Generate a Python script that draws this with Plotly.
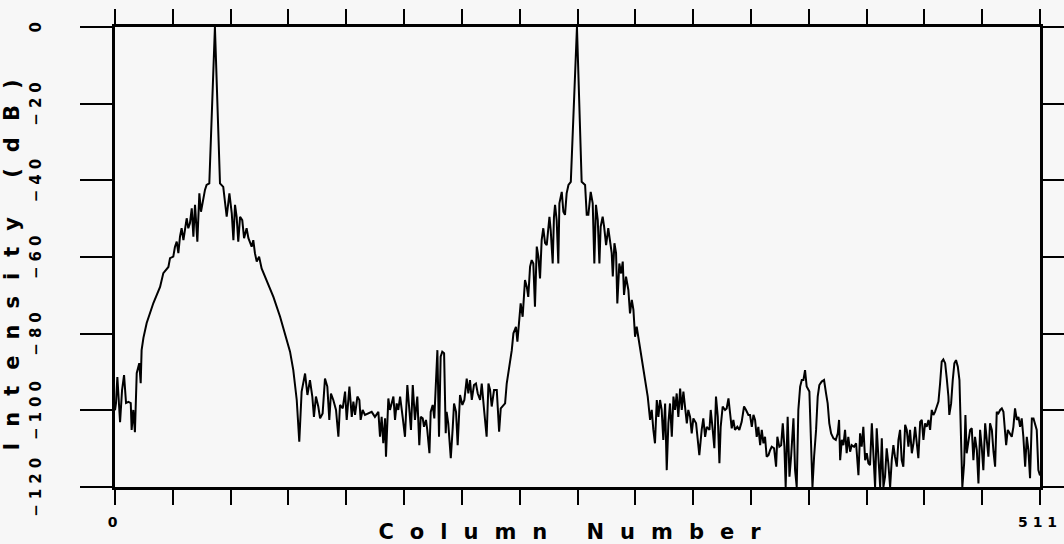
import plotly.graph_objects as go

# ---- data (column number, intensity in dB) ----
col_a = [0, 0.55, 1.3, 2.8, 3.9, 5.0, 6.1, 7.4, 8.7, 9.2, 10.1, 11.0, 12.0, 13.4, 14.2, 14.7,
         15.7, 17.5, 21.2, 24.9, 26.7, 29.5, 30.4, 32.2, 33.1, 34.1, 35.0, 35.9, 36.8, 37.8,
         39.6, 40.5, 41.4, 42.4, 43.3, 44.2, 45.5, 46.6, 47.5, 48.4, 49.7, 50.6, 52.1,
         55.2, 58.0,
         59.8, 60.8, 61.7, 63.2, 64.5, 65.4, 66.3, 67.2, 68.1, 69.1, 70.3, 71.3, 72.7, 73.7,
         74.6, 75.5, 76.4, 77.3, 78.3, 79.6, 81.0, 83.8, 87.5, 91.2, 93.9, 96.7, 98.5, 100.4, 101.8]
db_a = [-100, -98.1, -91.3, -103.1, -94.7, -90.8, -98.1, -97.8, -98.1, -105.1, -99.9, -105.7,
        -90.3, -87.7, -92.9, -84.3, -81.1, -77.2, -72.0, -67.8, -64.2, -62.6, -60.3, -59.9,
        -57.4, -56.0, -59.0, -54.7, -52.5, -55.6, -49.9, -52.5, -51.2, -47.3, -54.7, -46.4,
        -56.0, -43.4, -48.2, -45.6, -42.5, -41.2, -40.8,
        0, -40.8,
        -41.7, -46.0, -49.5, -43.4, -48.6, -55.6, -46.4, -49.5, -56.0, -49.5, -50.4, -55.1,
        -52.5, -55.1, -56.0, -57.3, -55.6, -59.0, -61.2, -59.9, -63.0, -66.0, -70.4, -75.6,
        -79.9, -84.7, -89.5, -97.3, -108.2]

col_b = [103.1, 105.0, 106.3, 107.7, 109.0, 109.9, 111.0, 112.3, 113.3, 114.7, 116.0, 117.3,
         118.4, 119.3, 120.6, 122.1, 123.4, 124.3, 125.8, 127.1, 128.0, 129.5, 130.8, 131.7,
         132.6, 133.9, 135.0, 135.7, 136.8, 138.1, 140.0, 141.8, 143.6, 145.5, 146.4, 147.3,
         148.2, 149.2, 149.7, 151.0, 151.9, 152.9, 153.8, 154.7, 155.6, 156.5, 157.5, 158.9,
         160.2, 161.5, 162.6, 163.5, 164.5, 165.7, 167.0, 168.1, 168.9, 170.0, 170.7, 171.8,
         172.5, 173.7, 174.4, 175.5, 176.4, 177.3, 178.1, 179.0, 179.9, 180.8, 181.8, 182.7,
         183.2, 184.1, 185.5, 186.6, 187.3, 188.4, 189.3, 190.6, 191.9, 193.0, 194.3, 195.2,
         196.1, 197.1, 198.3, 199.4, 200.4]
db_b = [-95.1, -90.4, -96.0, -92.1, -96.4, -101.7, -96.4, -99.0, -102.1, -100.8, -91.7, -93.8,
        -102.5, -95.6, -97.3, -99.9, -106.9, -98.6, -99.5, -95.1, -102.5, -93.8, -101.7, -97.7,
        -101.2, -96.4, -97.3, -102.5, -99.9, -101.2, -100.8, -100.4, -101.7, -100.4, -106.9,
        -101.7, -108.6, -102.1, -112.1, -96.9, -99.9, -97.7, -96.4, -102.5, -98.2, -99.9,
        -96.4, -101.7, -106.9, -93.4, -99.0, -105.1, -93.4, -102.5, -96.4, -109.1, -101.7,
        -102.1, -104.3, -102.5, -105.1, -111.2, -100.4, -98.6, -102.1, -90.4, -84.3, -106.9,
        -86.0, -84.7, -85.1, -106.0, -100.4, -103.4, -112.5, -104.3, -98.2, -100.4, -109.1,
        -96.0, -98.6, -97.3, -91.7, -95.6, -92.1, -97.3, -93.4, -93.0, -95.6]

col_c = [201.7, 202.6, 203.9, 205.3, 206.3, 207.2, 208.1, 209.4, 210.9, 212.2, 213.1, 215.5,
         216.4, 218.2, 219.2, 220.1, 221.5, 222.3, 223.4, 224.1, 225.2, 226.5, 227.5, 228.3,
         229.3, 230.2, 231.1, 232.0, 233.0, 233.9, 234.8, 235.7, 236.6, 237.6, 238.5, 240.0,
         240.7, 241.8, 242.5, 243.1, 244.0, 244.9, 245.5, 246.8, 247.7, 248.6, 249.5, 250.5,
         251.8, 255.2, 257.8,
         259.7, 260.6, 261.5, 262.8, 263.9, 264.8, 265.7, 266.7, 267.6, 268.3, 269.4, 270.2,
         271.3, 272.5, 273.5, 274.4, 275.0, 275.9, 276.8, 277.5, 278.6, 279.6, 280.5, 281.2,
         282.3, 283.6, 284.5, 285.5, 286.4, 287.3, 288.2, 289.1, 291.0, 292.8, 294.3, 295.6,
         296.5, 297.4, 298.3, 299.3, 300.2, 301.1, 302.0, 302.9, 303.9, 304.8, 305.7, 306.6,
         307.6, 308.5, 309.4, 310.3, 311.2, 312.2, 313.1, 314.0, 314.9, 315.9, 316.7, 317.7,
         318.6, 319.5, 321.0]
db_c = [-97.3, -93.0, -99.9, -106.9, -93.0, -94.7, -99.0, -94.7, -94.7, -105.6, -99.5, -98.2,
        -93.0, -87.7, -84.3, -79.9, -78.2, -82.1, -76.4, -72.1, -75.6, -66.0, -67.8, -70.4,
        -62.5, -60.8, -61.7, -73.0, -57.3, -59.9, -65.6, -55.6, -52.5, -56.4, -56.9, -49.5,
        -53.0, -61.7, -49.5, -46.4, -50.4, -61.7, -46.0, -43.0, -48.2, -49.0, -43.4, -41.2,
        -40.4, 0, -40.4,
        -41.2, -49.0, -49.0, -43.0, -46.0, -61.7, -46.4, -50.4, -61.7, -52.1, -49.5, -52.1,
        -56.9, -52.5, -56.0, -59.0, -65.1, -56.4, -59.0, -72.1, -61.7, -64.3, -61.2, -69.9,
        -65.1, -68.6, -74.7, -71.2, -73.8, -80.8, -78.2, -80.8, -86.9, -91.2, -96.4, -102.5,
        -99.9, -105.1, -108.6, -97.3, -101.7, -97.3, -99.9, -107.7, -98.2, -115.6, -103.4,
        -98.2, -106.9, -96.4, -99.9, -95.6, -101.7, -94.3, -99.9, -95.1, -99.0, -103.4, -99.9,
        -101.7, -106.0, -102.1, -103.4]

col_d = [322.8, 324.1, 325.0, 326.0, 326.9, 328.4, 329.1, 330.2, 331.1, 332.0, 333.0, 333.9,
         334.6, 335.7, 337.0, 337.9, 338.9, 339.8, 340.7, 341.6, 342.5, 343.8, 344.9, 346.2,
         347.5, 348.6, 349.9, 350.8, 351.8, 352.7, 353.6, 354.5, 355.4, 356.4, 357.3, 358.2,
         359.1, 360.0, 361.0, 361.9, 362.8, 364.1, 365.2, 365.9, 367.0, 368.0, 368.9, 369.8,
         370.5, 371.6, 372.6, 373.5, 374.8, 375.7, 376.6, 377.5, 378.5, 379.4, 380.3, 381.2,
         382.1, 383.6, 384.3, 385.3, 386.2, 387.3, 388.2, 389.1, 390.4, 391.7, 392.8, 393.7,
         394.6, 395.6, 396.9, 398.2, 399.3, 400.0, 400.6, 401.5, 402.4, 403.3, 404.2, 405.1,
         406.1, 407.0, 408.3, 409.4, 410.7, 411.6, 412.5, 413.4, 414.4, 415.3, 416.2]
db_d = [-111.7, -105.1, -102.1, -106.9, -104.3, -105.1, -99.9, -105.1, -109.9, -96.4, -101.7,
        -113.8, -104.3, -99.0, -99.9, -99.5, -96.9, -100.8, -104.7, -102.5, -105.1, -104.3,
        -105.1, -103.0, -99.0, -99.9, -101.2, -101.2, -104.3, -101.2, -102.5, -106.9, -104.3,
        -109.1, -105.1, -108.6, -106.9, -112.1, -111.7, -110.4, -109.5, -109.9, -114.7, -106.9,
        -109.5, -109.1, -103.4, -109.5, -120, -101.7, -117.3, -112.1, -102.1, -115.6, -120,
        -99.9, -93.8, -92.1, -92.1, -89.5, -93.8, -95.1, -105.1, -120, -112.1, -105.1, -96.4,
        -93.4, -92.5, -92.1, -95.6, -98.2, -103.4, -106.0, -107.3, -107.7, -106.0, -102.5,
        -113.0, -107.7, -109.1, -105.1, -111.2, -106.9, -110.8, -109.1, -109.5, -108.6, -116.9,
        -106.0, -109.5, -104.3, -113.0, -111.2, -113.8]

col_e = [417.1, 418.1, 419.0, 419.9, 420.8, 421.7, 422.7, 423.6, 424.5, 425.4, 426.3, 427.2,
         428.2, 429.1, 430.0, 430.9, 431.9, 432.8, 433.7, 434.6, 435.5, 436.5, 437.4, 438.3,
         439.2, 440.2, 441.1, 442.0, 442.9, 443.8, 444.8, 445.7, 446.6, 447.5, 448.4, 449.4,
         450.3, 451.2, 452.1, 453.0, 454.0, 454.9, 455.8, 456.7, 457.6, 458.6, 459.5, 460.4,
         460.9, 461.9, 462.8, 463.7, 464.6, 465.6, 466.5, 467.4, 468.1, 469.1, 469.8, 470.5,
         471.4, 472.4, 473.3, 474.2, 475.1, 476.1, 477.0, 477.9, 478.8, 479.7, 480.7, 481.6,
         482.5, 483.4, 484.4, 485.3, 486.2, 487.1, 488.0, 489.0, 489.9, 490.8, 491.7, 492.3,
         493.2, 494.1, 495.4, 496.3, 497.2, 498.2, 499.1, 500.0, 500.9, 501.8, 502.8, 503.7,
         504.6, 505.5, 506.5, 507.4, 508.3, 509.2, 510.1, 511]
db_e = [-114.3, -103.4, -112.1, -120, -104.7, -113.8, -120, -107.3, -120, -117.3, -109.9,
        -113.8, -120, -113.0, -109.1, -112.1, -114.7, -107.7, -105.1, -113.0, -114.7, -103.8,
        -105.1, -109.5, -105.1, -111.2, -108.6, -104.3, -109.5, -112.5, -103.0, -102.5, -107.7,
        -103.4, -104.3, -102.5, -105.1, -99.9, -101.2, -100.4, -99.0, -97.7, -93.0, -87.3,
        -86.7, -87.7, -91.7, -96.4, -101.2, -98.2, -92.1, -87.7, -86.9, -88.6, -92.1, -109.5,
        -120, -113.8, -101.2, -111.2, -108.6, -105.1, -104.7, -113.0, -106.9, -110.4, -119.1,
        -105.1, -109.5, -115.6, -103.4, -107.7, -112.1, -103.4, -105.1, -110.8, -114.7, -100.4,
        -100.8, -99.9, -99.5, -100.4, -105.1, -109.1, -105.1, -106.0, -106.9, -104.3, -99.5,
        -102.5, -101.7, -104.3, -102.1, -106.9, -114.7, -106.9, -110.4, -117.7, -102.1, -102.1,
        -103.4, -105.1, -115.6, -117]

columns = col_a + col_b + col_c + col_d + col_e
intensity_db = db_a + db_b + db_c + db_d + db_e

x_tick_vals = [i * 511 / 16 for i in range(17)]
x_tick_text = ["0"] + [""] * 15 + ["511"]
y_tick_vals = [0, -20, -40, -60, -80, -100, -120]
y_tick_text = ["0", "\u221220", "\u221240", "\u221260", "\u221280", "\u2212100", "\u2212120"]

BG = "#f7f7f7"
FONT = "DejaVu Sans"

fig = go.Figure()
fig.add_trace(go.Scatter(x=columns, y=intensity_db, mode="lines",
                         line=dict(color="black", width=2), showlegend=False,
                         hoverinfo="skip"))

fig.update_layout(
    width=1064, height=544,
    margin=dict(l=115, r=24, t=27, b=57),
    paper_bgcolor=BG, plot_bgcolor=BG,
    font=dict(family=FONT, color="black"),
)
fig.update_xaxes(
    range=[0, 511], tickmode="array", tickvals=x_tick_vals, ticktext=x_tick_text,
    showgrid=False, zeroline=False,
    showline=True, linecolor="black", linewidth=3, mirror="ticks",
    ticks="outside", ticklen=15, tickwidth=2, tickcolor="black",
    tickfont=dict(family=FONT, size=14, weight="bold"), ticklabelstandoff=5,
    title=dict(text="Column Number", font=dict(family=FONT, size=21, weight="bold"), standoff=2),
    automargin=False,
)
fig.update_yaxes(
    range=[-120, 0], tickmode="array", tickvals=y_tick_vals, ticktext=y_tick_text,
    showgrid=False, zeroline=False,
    showline=True, linecolor="black", linewidth=3, mirror="ticks",
    ticks="outside", ticklen=32, tickwidth=2, tickcolor="black", tickangle=-90,
    tickfont=dict(family=FONT, size=15, weight="bold"), ticklabelstandoff=33,
    title=dict(text="Intensity (dB)", font=dict(family=FONT, size=21, weight="bold"), standoff=2),
    automargin=False,
)

post = """
var gd = document.getElementById('{plot_id}');
function spaceText(){
  gd.querySelectorAll('.xtitle, .ytitle').forEach(function(t){ t.style.letterSpacing = '16px'; });
  gd.querySelectorAll('.xtick text, .ytick text').forEach(function(t){ t.style.letterSpacing = '5px'; });
}
spaceText();
if (gd.on) { gd.on('plotly_afterplot', spaceText); }
"""
fig.write_html("out.html", post_script=post)
